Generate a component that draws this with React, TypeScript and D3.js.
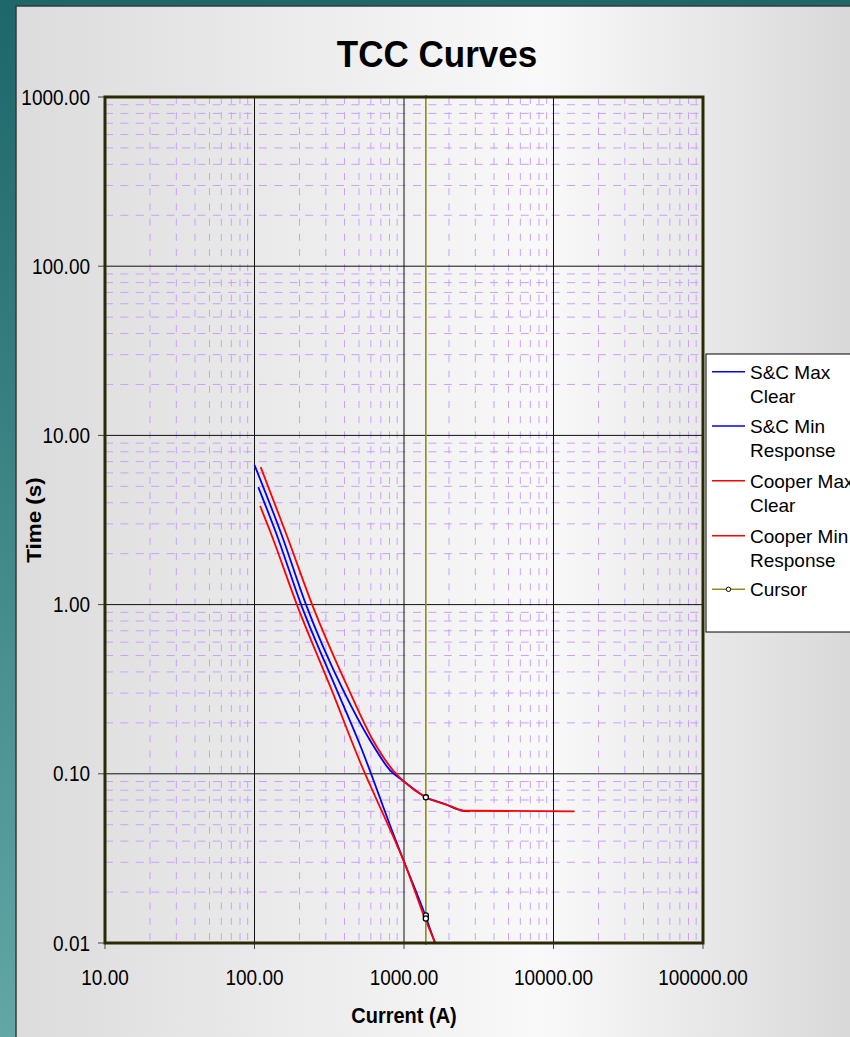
import React from "react";
import * as d3 from "d3";

// ---- data ----
const xTickValues = [10, 100, 1000, 10000, 100000];
const xTickLabels = ["10.00", "100.00", "1000.00", "10000.00", "100000.00"];
const yTickValues = [0.01, 0.1, 1, 10, 100, 1000];
const yTickLabels = ["0.01", "0.10", "1.00", "10.00", "100.00", "1000.00"];

const scMaxClearCurrent = [100, 152, 221, 391, 592, 806, 1000, 1403, 1880, 2190, 2450, 2750];
const scMaxClearTime = [6.68, 2.58, 1.0, 0.313, 0.158, 0.105, 0.09, 0.0726, 0.0663, 0.0624, 0.0605, 0.06];

const scMinRespCurrent = [106, 141, 205, 355, 508, 879, 1000, 1390, 1611];
const scMinRespTime = [4.95, 2.58, 1.0, 0.313, 0.148, 0.0406, 0.0303, 0.0145, 0.01];

const cooperMaxClearCurrent = [110, 164, 243, 428, 620, 844, 1000, 1403, 2030, 2550, 13800];
const cooperMaxClearTime = [6.5, 2.58, 1.0, 0.313, 0.158, 0.105, 0.09, 0.0726, 0.0646, 0.0605, 0.06];

const cooperMinRespCurrent = [109, 130, 192, 328, 508, 848, 1000, 1380, 1620];
const cooperMinRespTime = [3.83, 2.58, 1.0, 0.313, 0.1175, 0.0425, 0.0303, 0.014, 0.01];

const cursorCurrent = 1400;
const cursorLineTimes = [1000, 0.01];
const cursorMarkerTimes = [0.0726, 0.01454, 0.01396];

const seriesNames = ["S&C Max Clear", "S&C Min Response", "Cooper Max Clear", "Cooper Min Response", "Cursor"];
const seriesColors = ["#0000ff", "#0000ff", "#ff0000", "#ff0000", "#8c8c1e"];

const FONT = "Arial, 'Liberation Sans', sans-serif";

export default function App() {
  const W = 850, H = 1037;
  const L = 105, R = 703, T = 97, B = 943;
  const x = d3.scaleLog().domain([10, 100000]).range([L, R]);
  const y = d3.scaleLog().domain([0.01, 1000]).range([B, T]);

  const line = d3
    .line<[number, number]>()
    .x((d) => x(d[0]))
    .y((d) => y(d[1]))
    .curve(d3.curveMonotoneX);

  const zip = (a: number[], b: number[]) => a.map((v, i) => [v, b[i]] as [number, number]);
  const curves = [
    zip(scMaxClearCurrent, scMaxClearTime),
    zip(scMinRespCurrent, scMinRespTime),
    zip(cooperMaxClearCurrent, cooperMaxClearTime),
    zip(cooperMinRespCurrent, cooperMinRespTime),
  ];

  const minorX: number[] = [];
  for (let e = 1; e < 5; e++) for (let k = 2; k <= 9; k++) minorX.push(k * Math.pow(10, e));
  const minorY: number[] = [];
  for (let e = -2; e < 3; e++) for (let k = 2; k <= 9; k++) minorY.push(k * Math.pow(10, e));

  const legendEntries = [
    ["S&C Max", "Clear"],
    ["S&C Min", "Response"],
    ["Cooper Max", "Clear"],
    ["Cooper Min", "Response"],
    ["Cursor"],
  ];
  const legendLineY = [371.7, 426, 480.7, 535.7, 589.3];

  return (
    <svg
      width={W}
      height={H}
      style={{ position: "absolute", left: 0, top: 0, display: "block" }}
      fontFamily={FONT}
    >
      <defs>
        <linearGradient id="teal" x1="0" y1="0" x2="0" y2="1">
          <stop offset="0%" stopColor="#1d6669" />
          <stop offset="100%" stopColor="#62a7a6" />
        </linearGradient>
        <linearGradient id="panel" gradientUnits="userSpaceOnUse" x1="16" y1="0" x2="850" y2="0">
          <stop offset="0%" stopColor="#dcdcdc" />
          <stop offset="63%" stopColor="#f9f9f9" />
          <stop offset="100%" stopColor="#d9d9d9" />
        </linearGradient>
        <clipPath id="plotClip">
          <rect x={L} y={T} width={R - L} height={B - T} />
        </clipPath>
      </defs>

      <rect x={0} y={0} width={W} height={H} fill="url(#teal)" />
      <rect x={16} y={6} width={W} height={H} fill="url(#panel)" stroke="#3a3a3a" strokeWidth={1.5} />

      {/* title */}
      <text
        transform={`translate(437,67) scale(1,1.07)`}
        textAnchor="middle"
        fontSize={35}
        fontWeight="bold"
        fill="#000"
      >
        TCC Curves
      </text>

      {/* minor grid */}
      <g stroke="#c9a0ff" strokeWidth={1}>
        {minorX.map((v, i) => (
          <line key={"mx" + i} x1={x(v)} x2={x(v)} y1={T} y2={B} strokeDasharray="7,8.2" />
        ))}
        {minorY.map((v, i) => (
          <line key={"my" + i} x1={L} x2={R} y1={y(v)} y2={y(v)} strokeDasharray="8,7.4" />
        ))}
      </g>

      {/* major grid */}
      <g stroke="#111" strokeWidth={1}>
        {xTickValues.map((v, i) => (
          <line key={"gx" + i} x1={x(v)} x2={x(v)} y1={T} y2={B} />
        ))}
        {yTickValues.map((v, i) => (
          <line key={"gy" + i} x1={L} x2={R} y1={y(v)} y2={y(v)} />
        ))}
      </g>

      {/* tick marks */}
      <g stroke="#444" strokeWidth={1}>
        {xTickValues.map((v, i) => (
          <line key={"tx" + i} x1={x(v)} x2={x(v)} y1={B} y2={B + 6} />
        ))}
        {yTickValues.map((v, i) => (
          <line key={"ty" + i} x1={L - 7} x2={L} y1={y(v)} y2={y(v)} />
        ))}
      </g>

      {/* tick labels */}
      <g fontSize={19} fill="#000">
        {yTickValues.map((v, i) => (
          <text key={"ly" + i} transform={`translate(90,${y(v) + 7.6}) scale(1,1.12)`} textAnchor="end">
            {yTickLabels[i]}
          </text>
        ))}
        {xTickValues.map((v, i) => (
          <text key={"lx" + i} transform={`translate(${x(v)},985) scale(1,1.12)`} textAnchor="middle">
            {xTickLabels[i]}
          </text>
        ))}
      </g>

      {/* axis titles */}
      <text
        transform={`translate(404,1023) scale(1,1.12)`}
        textAnchor="middle"
        fontSize={20}
        fontWeight="bold"
      >
        Current (A)
      </text>
      <text
        transform={`translate(41,520) rotate(-90) scale(1.12,1)`}
        textAnchor="middle"
        fontSize={20}
        fontWeight="bold"
      >
        Time (s)
      </text>

      {/* curves */}
      <g clipPath="url(#plotClip)" fill="none">
        {curves.map((c, i) => (
          <path key={"c" + i} d={line(c) || ""} stroke={seriesColors[i]} strokeWidth={1.8} />
        ))}
      </g>

      {/* cursor */}
      <line
        x1={x(cursorCurrent)}
        x2={x(cursorCurrent)}
        y1={y(cursorLineTimes[0]) - 2}
        y2={y(cursorLineTimes[1]) + 2}
        stroke={seriesColors[4]}
        strokeWidth={1.6}
      />

      {/* plot frame */}
      <rect x={L} y={T} width={R - L} height={B - T} fill="none" stroke="#2a2a05" strokeWidth={3} />

      {cursorMarkerTimes.map((t, i) => (
        <circle key={"m" + i} cx={x(cursorCurrent)} cy={y(t)} r={2.6} fill="#fff" stroke="#000" strokeWidth={1.3} />
      ))}

      {/* legend */}
      <rect x={706} y={354} width={170} height={278} fill="#fff" stroke="#000" strokeWidth={1} />
      {legendEntries.map((lines, i) => (
        <g key={"lg" + i}>
          <line x1={712} x2={745} y1={legendLineY[i]} y2={legendLineY[i]} stroke={seriesColors[i]} strokeWidth={1.5} />
          {i === 4 && (
            <circle cx={728.5} cy={legendLineY[i]} r={2.2} fill="#fff" stroke="#000" strokeWidth={1} />
          )}
          {lines.map((s, j) => (
            <text key={j} x={750} y={legendLineY[i] + 6.8 + j * 24.5} fontSize={19} fill="#000">
              {s}
            </text>
          ))}
        </g>
      ))}
    </svg>
  );
}
